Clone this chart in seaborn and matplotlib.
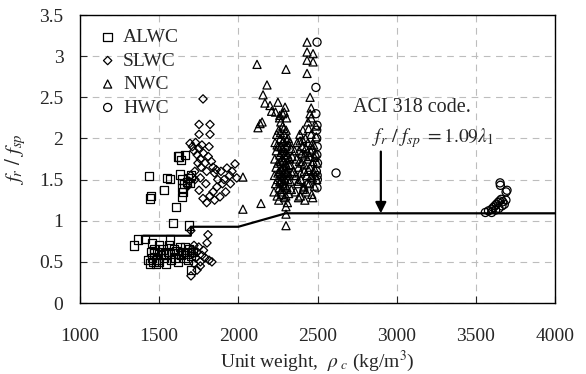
import matplotlib
matplotlib.use("Agg")
import matplotlib.pyplot as plt
import seaborn as sns
import pandas as pd
import numpy as np

# ---------------- data ----------------
alwc_x = [1436, 1442, 1530, 1568, 1626, 1640, 1606, 1644, 1644, 1695, 1644, 1660, 1680, 1587, 1690,
          1650, 1700, 1549, 1448, 1632, 1676, 1619, 1663,
          1341, 1366, 1455, 1568, 1410, 1430, 1440, 1455, 1465, 1470, 1480, 1490, 1500, 1510, 1520,
          1530, 1545, 1555, 1560, 1575, 1585, 1595, 1600, 1610, 1620, 1630, 1640, 1650, 1660, 1665,
          1675, 1680, 1690, 1700, 1700, 1710, 1470, 1500, 1540, 1620, 1450, 1490]
alwc_y = [1.54, 1.27, 1.37, 1.51, 1.78, 1.74, 1.17, 1.50, 1.29, 1.46, 1.40, 1.45, 1.52, 0.97, 0.94,
          1.35, 1.55, 1.52, 1.30, 1.56, 1.47, 1.78, 1.80,
          0.70, 0.77, 0.73, 0.77, 0.78, 0.52, 0.48, 0.55, 0.50, 0.60, 0.48, 0.53, 0.50, 0.58, 0.65,
          0.55, 0.48, 0.62, 0.70, 0.52, 0.60, 0.66, 0.55, 0.63, 0.50, 0.68, 0.58, 0.62, 0.55, 0.68,
          0.60, 0.52, 0.65, 0.40, 0.57, 0.62, 0.66, 0.70, 0.60, 0.60, 0.62, 0.62]

slwc_x = [1777, 1752, 1821, 1752, 1821, 1695, 1710, 1720, 1730, 1740, 1745, 1750, 1760, 1765, 1770,
          1780, 1790, 1800, 1810, 1815, 1830, 1840, 1850, 1860, 1725, 1700, 1690, 1680, 1726, 1752,
          1777, 1800, 1820, 1840, 1865, 1884, 1900, 1910, 1928, 1945, 1960, 1979, 1990, 1870, 1890,
          1950, 1920, 1850, 1795, 1760,
          1808, 1802, 1833, 1739, 1701, 1705, 1715, 1720, 1730, 1740, 1750, 1760, 1770, 1780, 1790,
          1700, 1720, 1815, 1760]
slwc_y = [2.48, 2.17, 2.17, 2.05, 2.05, 1.94, 1.90, 1.85, 1.95, 1.80, 1.70, 1.88, 1.75, 1.65, 1.92,
          1.82, 1.70, 1.60, 1.78, 1.90, 1.72, 1.65, 1.58, 1.62, 1.60, 1.55, 1.48, 1.42, 1.50, 1.37,
          1.27, 1.22, 1.30, 1.35, 1.41, 1.29, 1.45, 1.50, 1.64, 1.55, 1.60, 1.69, 1.52, 1.50, 1.60,
          1.45, 1.35, 1.25, 1.45, 1.52,
          0.83, 0.73, 0.50, 0.40, 0.33, 0.65, 0.60, 0.70, 0.55, 0.62, 0.68, 0.50, 0.58, 0.64, 0.55,
          0.88, 0.48, 0.52, 0.45]

nwc_x = [2029, 2029, 2143, 2301, 2301, 2301, 2118, 2301, 2181, 2156, 2168, 2200, 2250, 2210, 2235,
         2124, 2150, 2137, 2434, 2434, 2472, 2434, 2472, 2434, 2453, 2460, 2453, 2260, 2280,
         2225, 2228, 2230, 2232, 2235, 2238, 2240, 2242, 2245, 2248, 2250, 2252, 2255, 2258, 2260,
         2262, 2265, 2268, 2270, 2272, 2275, 2278, 2280, 2282, 2285, 2288, 2290, 2292, 2295, 2298,
         2300, 2302, 2305, 2308, 2310, 2312, 2315, 2318, 2320, 2322, 2325, 2328, 2330, 2332, 2335,
         2338, 2340, 2255, 2300, 2310, 2270, 2285, 2245, 2262, 2295, 2290, 2305, 2275, 2320, 2250,
         2360, 2365, 2368, 2372, 2375, 2380, 2384, 2388, 2392, 2396, 2400, 2404, 2408, 2412, 2416,
         2420, 2424, 2428, 2432, 2436, 2440, 2444, 2448, 2452, 2456, 2460, 2464, 2468, 2472, 2476,
         2480, 2484, 2488, 2492, 2495, 2498, 2380, 2420, 2470, 2350, 2355, 2440, 2460, 2490,
         2262, 2268, 2274, 2280, 2286, 2292, 2298, 2304, 2266, 2272, 2278, 2284, 2290, 2296, 2302,
         2308, 2276, 2288, 2294, 2282, 2264, 2300, 2312, 2270,
         2378, 2386, 2394, 2402, 2410, 2418, 2426, 2434, 2442, 2450, 2458, 2466, 2474, 2482, 2390,
         2414, 2438, 2462, 2486, 2406]
nwc_y = [1.53, 1.14, 1.21, 1.17, 1.08, 0.94, 2.90, 2.84, 2.65, 2.53, 2.43, 2.40, 2.44, 2.33, 2.32,
         2.13, 2.20, 2.18, 3.17, 3.05, 3.03, 2.95, 2.93, 2.79, 2.50, 2.37, 2.30, 2.25, 2.30,
         1.35, 1.55, 1.75, 1.95, 1.45, 1.65, 1.85, 2.05, 1.30, 1.50, 1.70, 1.90, 2.10, 1.40, 1.60,
         1.80, 2.00, 2.20, 1.35, 1.55, 1.75, 1.95, 2.15, 1.45, 1.65, 1.85, 2.05, 1.28, 1.50, 1.70,
         1.90, 2.10, 2.25, 1.40, 1.60, 1.80, 2.00, 1.33, 1.55, 1.75, 1.95, 1.48, 1.68, 1.88, 1.38,
         1.58, 1.78, 1.25, 1.30, 1.22, 1.62, 1.42, 1.92, 2.28, 2.38, 2.32, 1.98, 1.50, 1.68, 1.58,
         1.35, 1.55, 1.75, 1.95, 1.45, 1.65, 1.85, 2.05, 1.30, 1.50, 1.70, 1.90, 2.10, 1.40, 1.60,
         1.80, 2.00, 1.35, 1.55, 1.75, 1.95, 2.12, 1.45, 1.65, 1.85, 2.05, 1.32, 1.52, 1.72, 1.92,
         1.42, 1.62, 1.82, 2.02, 1.50, 1.70, 1.28, 1.25, 1.28, 1.60, 1.85, 2.20, 2.25, 2.15,
         1.47, 1.72, 1.38, 1.88, 1.57, 1.80, 1.43, 1.67, 2.07, 1.83, 1.62, 1.97, 1.52, 1.77, 1.58,
         1.92, 1.32, 2.12, 1.63, 1.73, 1.48, 1.83, 1.50, 1.90,
         1.48, 1.72, 1.58, 1.82, 1.38, 1.68, 1.88, 1.46, 1.62, 1.78, 1.53, 1.87, 1.60, 1.77, 1.97,
         1.42, 1.83, 1.92, 1.55, 1.98]

hwc_x = [2497, 2490, 2497, 2497, 2617, 2495, 2498, 2496, 2500, 2493, 2499, 2495, 2490, 2498,
         3653, 3697, 3691, 3655, 3560, 3580, 3600, 3610, 3620, 3630, 3640, 3650, 3660, 3670, 3680,
         3690, 3600, 3625, 3645, 3665]
hwc_y = [3.17, 2.62, 2.16, 1.40, 1.58, 2.00, 1.90, 1.80, 1.70, 1.60, 1.50, 2.10, 2.30, 1.55,
         1.46, 1.37, 1.35, 1.43, 1.10, 1.12, 1.14, 1.16, 1.18, 1.20, 1.22, 1.24, 1.26, 1.23, 1.20,
         1.25, 1.10, 1.13, 1.15, 1.18]

code_x = [1400, 1700, 1700, 2000, 2300, 4000]
code_y = [0.8175, 0.8175, 0.9265, 0.9265, 1.09, 1.09]

groups = ["ALWC", "SLWC", "NWC", "HWC"]
markers = {"ALWC": "s", "SLWC": "D", "NWC": "^", "HWC": "o"}
sizes = {"ALWC": 36, "SLWC": 18, "NWC": 34, "HWC": 34}

df = pd.concat([
    pd.DataFrame({"w": alwc_x, "r": alwc_y, "type": "ALWC"}),
    pd.DataFrame({"w": slwc_x, "r": slwc_y, "type": "SLWC"}),
    pd.DataFrame({"w": nwc_x, "r": nwc_y, "type": "NWC"}),
    pd.DataFrame({"w": hwc_x, "r": hwc_y, "type": "HWC"}),
], ignore_index=True)
code = pd.DataFrame({"w": code_x, "r": code_y})

# ---------------- style ----------------
sns.set_theme(style="ticks")
plt.rcParams["font.family"] = ["Liberation Serif", "DejaVu Serif"]
plt.rcParams["mathtext.fontset"] = "stix"

fig = plt.figure(figsize=(5.86, 3.74), dpi=100)
ax = fig.add_axes([80 / 586, 71 / 374, 475 / 586, 288 / 374])

for g in groups:
    sub = df[df["type"] == g]
    sns.scatterplot(data=sub, x="w", y="r", marker=markers[g], s=sizes[g],
                    facecolor="none", edgecolor="black", linewidth=0.9,
                    label=g, ax=ax, zorder=3)

sns.lineplot(data=code, x="w", y="r", sort=False, estimator=None,
             color="black", linewidth=1.6, ax=ax, zorder=4, legend=False)

ax.annotate("", xy=(2900, 1.09), xytext=(2900, 1.84),
            arrowprops=dict(arrowstyle="-|>", color="black", lw=1.6, mutation_scale=16,
                            shrinkA=0, shrinkB=0), zorder=5)
ax.text(2722, 2.38, "ACI 318 code.", fontsize=14.5, va="center", ha="left")
ax.text(2844, 2.0, r"$f_r\ /\ f_{sp}\ = 1.09\lambda_1$", fontsize=14, va="center", ha="left")

ax.set_xlim(1000, 4000)
ax.set_ylim(0, 3.5)
ax.set_xticks([1000, 1500, 2000, 2500, 3000, 3500, 4000])
ax.set_yticks([0, 0.5, 1, 1.5, 2, 2.5, 3, 3.5])
ax.set_xticklabels(["1000", "1500", "2000", "2500", "3000", "3500", "4000"])
ax.set_yticklabels(["0", "0.5", "1", "1.5", "2", "2.5", "3", "3.5"])
ax.tick_params(axis="x", direction="in", length=5, width=0.8, pad=18, labelsize=14)
ax.tick_params(axis="y", direction="in", length=5, width=0.8, pad=12, labelsize=14)
ax.grid(True, linestyle=(0, (6, 5)), color="#bdbdbd", linewidth=0.8, zorder=0)
ax.set_axisbelow(True)
for sp in ax.spines.values():
    sp.set_visible(True)
    sp.set_linewidth(1.0)
    sp.set_color("black")

ax.set_xlabel(r"Unit weight,  $\rho_{\ c}$ (kg/m$^3$)", fontsize=14, labelpad=3)
ax.set_ylabel(r"$f_r\ /\ f_{sp}$", fontsize=15, labelpad=8)

leg = ax.legend(loc="upper left", frameon=False, fontsize=14, handletextpad=0.2,
                labelspacing=0.3, borderaxespad=0.3, handlelength=1.2,
                bbox_to_anchor=(0.005, 1.0))

fig.savefig("out.png", dpi=100)
